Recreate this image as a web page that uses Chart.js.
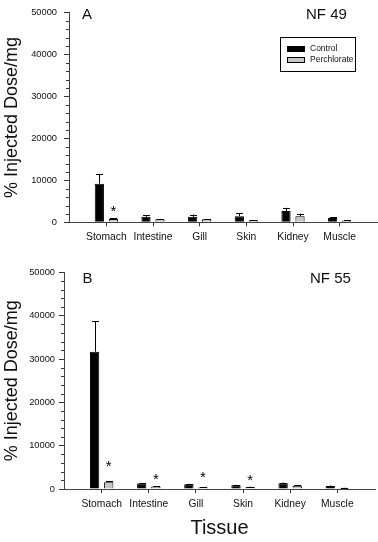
<!DOCTYPE html>
<html><head><meta charset="utf-8">
<style>
html,body{margin:0;padding:0;background:#fff;width:378px;height:542px;overflow:hidden}
canvas{position:absolute;left:0;top:0}
</style>
<script src="https://cdn.jsdelivr.net/npm/chart.js@4.4.1/dist/chart.umd.min.js"></script>
</head><body>
<canvas id="pa" width="378" height="542"></canvas>
<canvas id="pb" width="378" height="542"></canvas>
<script>
// ---- data ----
const categories = ['Stomach', 'Intestine', 'Gill', 'Skin', 'Kidney', 'Muscle'];
const yTicks = [0, 10000, 20000, 30000, 40000, 50000];

const nf49Control    = [9200, 1300, 1300, 1450, 2700, 1000];
const nf49ControlErr = [2300, 400, 550, 650, 750, 200];
const nf49Perch      = [800, 700, 700, 480, 1450, 400];
const nf49PerchErr   = [120, 100, 80, 40, 600, 50];
const nf49Stars      = [3600, null, null, null, null, null];

const nf55Control    = [31700, 1250, 1100, 880, 1350, 700];
const nf55ControlErr = [7100, 150, 100, 80, 150, 80];
const nf55Perch      = [1550, 560, 420, 500, 730, 300];
const nf55PerchErr   = [230, 60, 50, 50, 80, 40];
const nf55Stars      = [6200, 3200, 3550, 3000, null, null];

const FONT = "'Liberation Sans', Arial, sans-serif";
Chart.defaults.font.family = FONT;

const toXY = vals => vals.map((v, i) => ({ x: i + 1, y: v }));

const errorBarPlugin = {
  id: 'errbars',
  afterDatasetsDraw(chart) {
    const ctx = chart.ctx, ys = chart.scales.y;
    chart.data.datasets.forEach((ds, di) => {
      const meta = chart.getDatasetMeta(di);
      meta.data.forEach((bar, i) => {
        const v = ds.data[i].y, e = ds.errors[i];
        ctx.save();
        ctx.strokeStyle = '#000';
        ctx.lineWidth = 1;
        if (e) {
          const yt = ys.getPixelForValue(v + e);
          const x = Math.round(bar.x) + 0.5;
          ctx.beginPath();
          ctx.moveTo(x, bar.y);
          ctx.lineTo(x, yt);
          ctx.moveTo(x - 3.5, Math.round(yt) + 0.5);
          ctx.lineTo(x + 3.5, Math.round(yt) + 0.5);
          ctx.stroke();
        }
        const s = ds.stars && ds.stars[i];
        if (s != null) {
          ctx.fillStyle = '#000';
          ctx.font = '15px ' + FONT;
          ctx.textAlign = 'center';
          ctx.textBaseline = 'alphabetic';
          ctx.fillText('*', bar.x, ys.getPixelForValue(s) + 8.5);
        }
        ctx.restore();
      });
    });
  }
};

const decorPlugin = {
  id: 'decor',
  afterDraw(chart, args, opts) {
    const ctx = chart.ctx, ys = chart.scales.y, ca = chart.chartArea;
    ctx.save();
    // minor y ticks
    ctx.strokeStyle = '#333';
    ctx.lineWidth = 1;
    ctx.beginPath();
    for (let v = ys.min; v <= ys.max; v += 2000) {
      if (v % 10000 === 0) continue;
      const y = Math.round(ys.getPixelForValue(v)) + 0.5;
      ctx.moveTo(ca.left - 3, y);
      ctx.lineTo(ca.left, y);
    }
    ctx.stroke();
    // panel labels
    ctx.fillStyle = '#111';
    ctx.font = '15px ' + FONT;
    ctx.textBaseline = 'alphabetic';
    ctx.textAlign = 'left';
    ctx.fillText(opts.letter, opts.letterX, opts.baseY);
    ctx.fillText(opts.stage, opts.stageX, opts.baseY);
    // legend
    if (opts.legend) {
      const L = opts.legend;
      ctx.strokeStyle = '#000';
      ctx.strokeRect(L.x + 0.5, L.y + 0.5, L.w, L.h);
      ctx.font = '8.5px ' + FONT;
      ctx.textBaseline = 'middle';
      chart.data.datasets.forEach((ds, i) => {
        const sy = L.y + 9 + i * 11;
        ctx.fillStyle = ds.backgroundColor;
        ctx.fillRect(L.x + 7, sy, 18, 6);
        ctx.strokeStyle = '#000';
        ctx.strokeRect(L.x + 7.5, sy + 0.5, 17, 5);
        ctx.fillStyle = '#111';
        ctx.fillText(ds.label, L.x + 30, sy + 3);
      });
    }
    ctx.restore();
  }
};

function makeChart(id, p) {
  return new Chart(document.getElementById(id), {
    type: 'bar',
    data: {
      datasets: [
        { label: 'Control', data: toXY(p.ctrl), errors: p.ctrlErr, stars: null,
          backgroundColor: '#000', borderColor: '#000', borderWidth: 1 },
        { label: 'Perchlorate', data: toXY(p.perch), errors: p.perchErr, stars: p.stars,
          backgroundColor: '#c6c6c6', borderColor: '#000', borderWidth: 1 }
      ]
    },
    options: {
      responsive: false, animation: false, devicePixelRatio: 1, events: [],
      categoryPercentage: 0.6, barPercentage: 0.66,
      layout: { padding: p.padding },
      plugins: { legend: { display: false }, tooltip: { enabled: false }, decor: p.decor },
      scales: {
        x: {
          type: 'linear', min: 0.2, max: 6.8, offset: false,
          afterBuildTicks: s => { s.ticks = categories.map((_, i) => ({ value: i + 1 })); },
          afterFit: s => { s.height = p.xHeight; },
          ticks: { callback: v => categories[Math.round(v) - 1] || '', color: '#111',
                   font: { size: 10.3 }, padding: p.xPad, maxRotation: 0, autoSkip: false },
          grid: { offset: false, drawOnChartArea: false, drawTicks: true, tickLength: 4, color: '#333' },
          border: { color: '#444', width: 1 },
          title: { display: p.xTitle, text: 'Tissue', color: '#111',
                   font: { size: 20, lineHeight: 1 }, padding: { top: 0, bottom: 4 } }
        },
        y: {
          min: 0, max: 50000,
          afterBuildTicks: s => { s.ticks = yTicks.map(v => ({ value: v })); },
          afterFit: s => { s.width = p.yWidth; },
          ticks: { callback: v => String(v), color: '#111', font: { size: 9.3 }, padding: p.yPad },
          grid: { drawOnChartArea: false, drawTicks: true, tickLength: 5, color: '#333' },
          border: { color: '#444', width: 1 },
          title: { display: true, text: '% Injected Dose/mg', color: '#111',
                   font: { size: 18, lineHeight: 1 }, padding: { top: 3.5, bottom: 0 } }
        }
      }
    },
    plugins: [errorBarPlugin, decorPlugin]
  });
}

makeChart('pa', {
  ctrl: nf49Control, ctrlErr: nf49ControlErr, perch: nf49Perch, perchErr: nf49PerchErr, stars: nf49Stars,
  padding: { top: 6, left: 0, right: 1, bottom: 272 }, xHeight: 47.7, yWidth: 69, xPad: 5, yPad: 7,
  xTitle: false,
  decor: { letter: 'A', stage: 'NF 49', letterX: 82, stageX: 306, baseY: 18.5,
           legend: { x: 280, y: 37, w: 75, h: 34 } }
});
makeChart('pb', {
  ctrl: nf55Control, ctrlErr: nf55ControlErr, perch: nf55Perch, perchErr: nf55PerchErr, stars: nf55Stars,
  padding: { top: 272.5, left: 0, right: 3, bottom: 0 }, xHeight: 53, yWidth: 64, xPad: 5, yPad: 4,
  xTitle: true,
  decor: { letter: 'B', stage: 'NF 55', letterX: 82.5, stageX: 310, baseY: 283, legend: null }
});
</script>
</body></html>
